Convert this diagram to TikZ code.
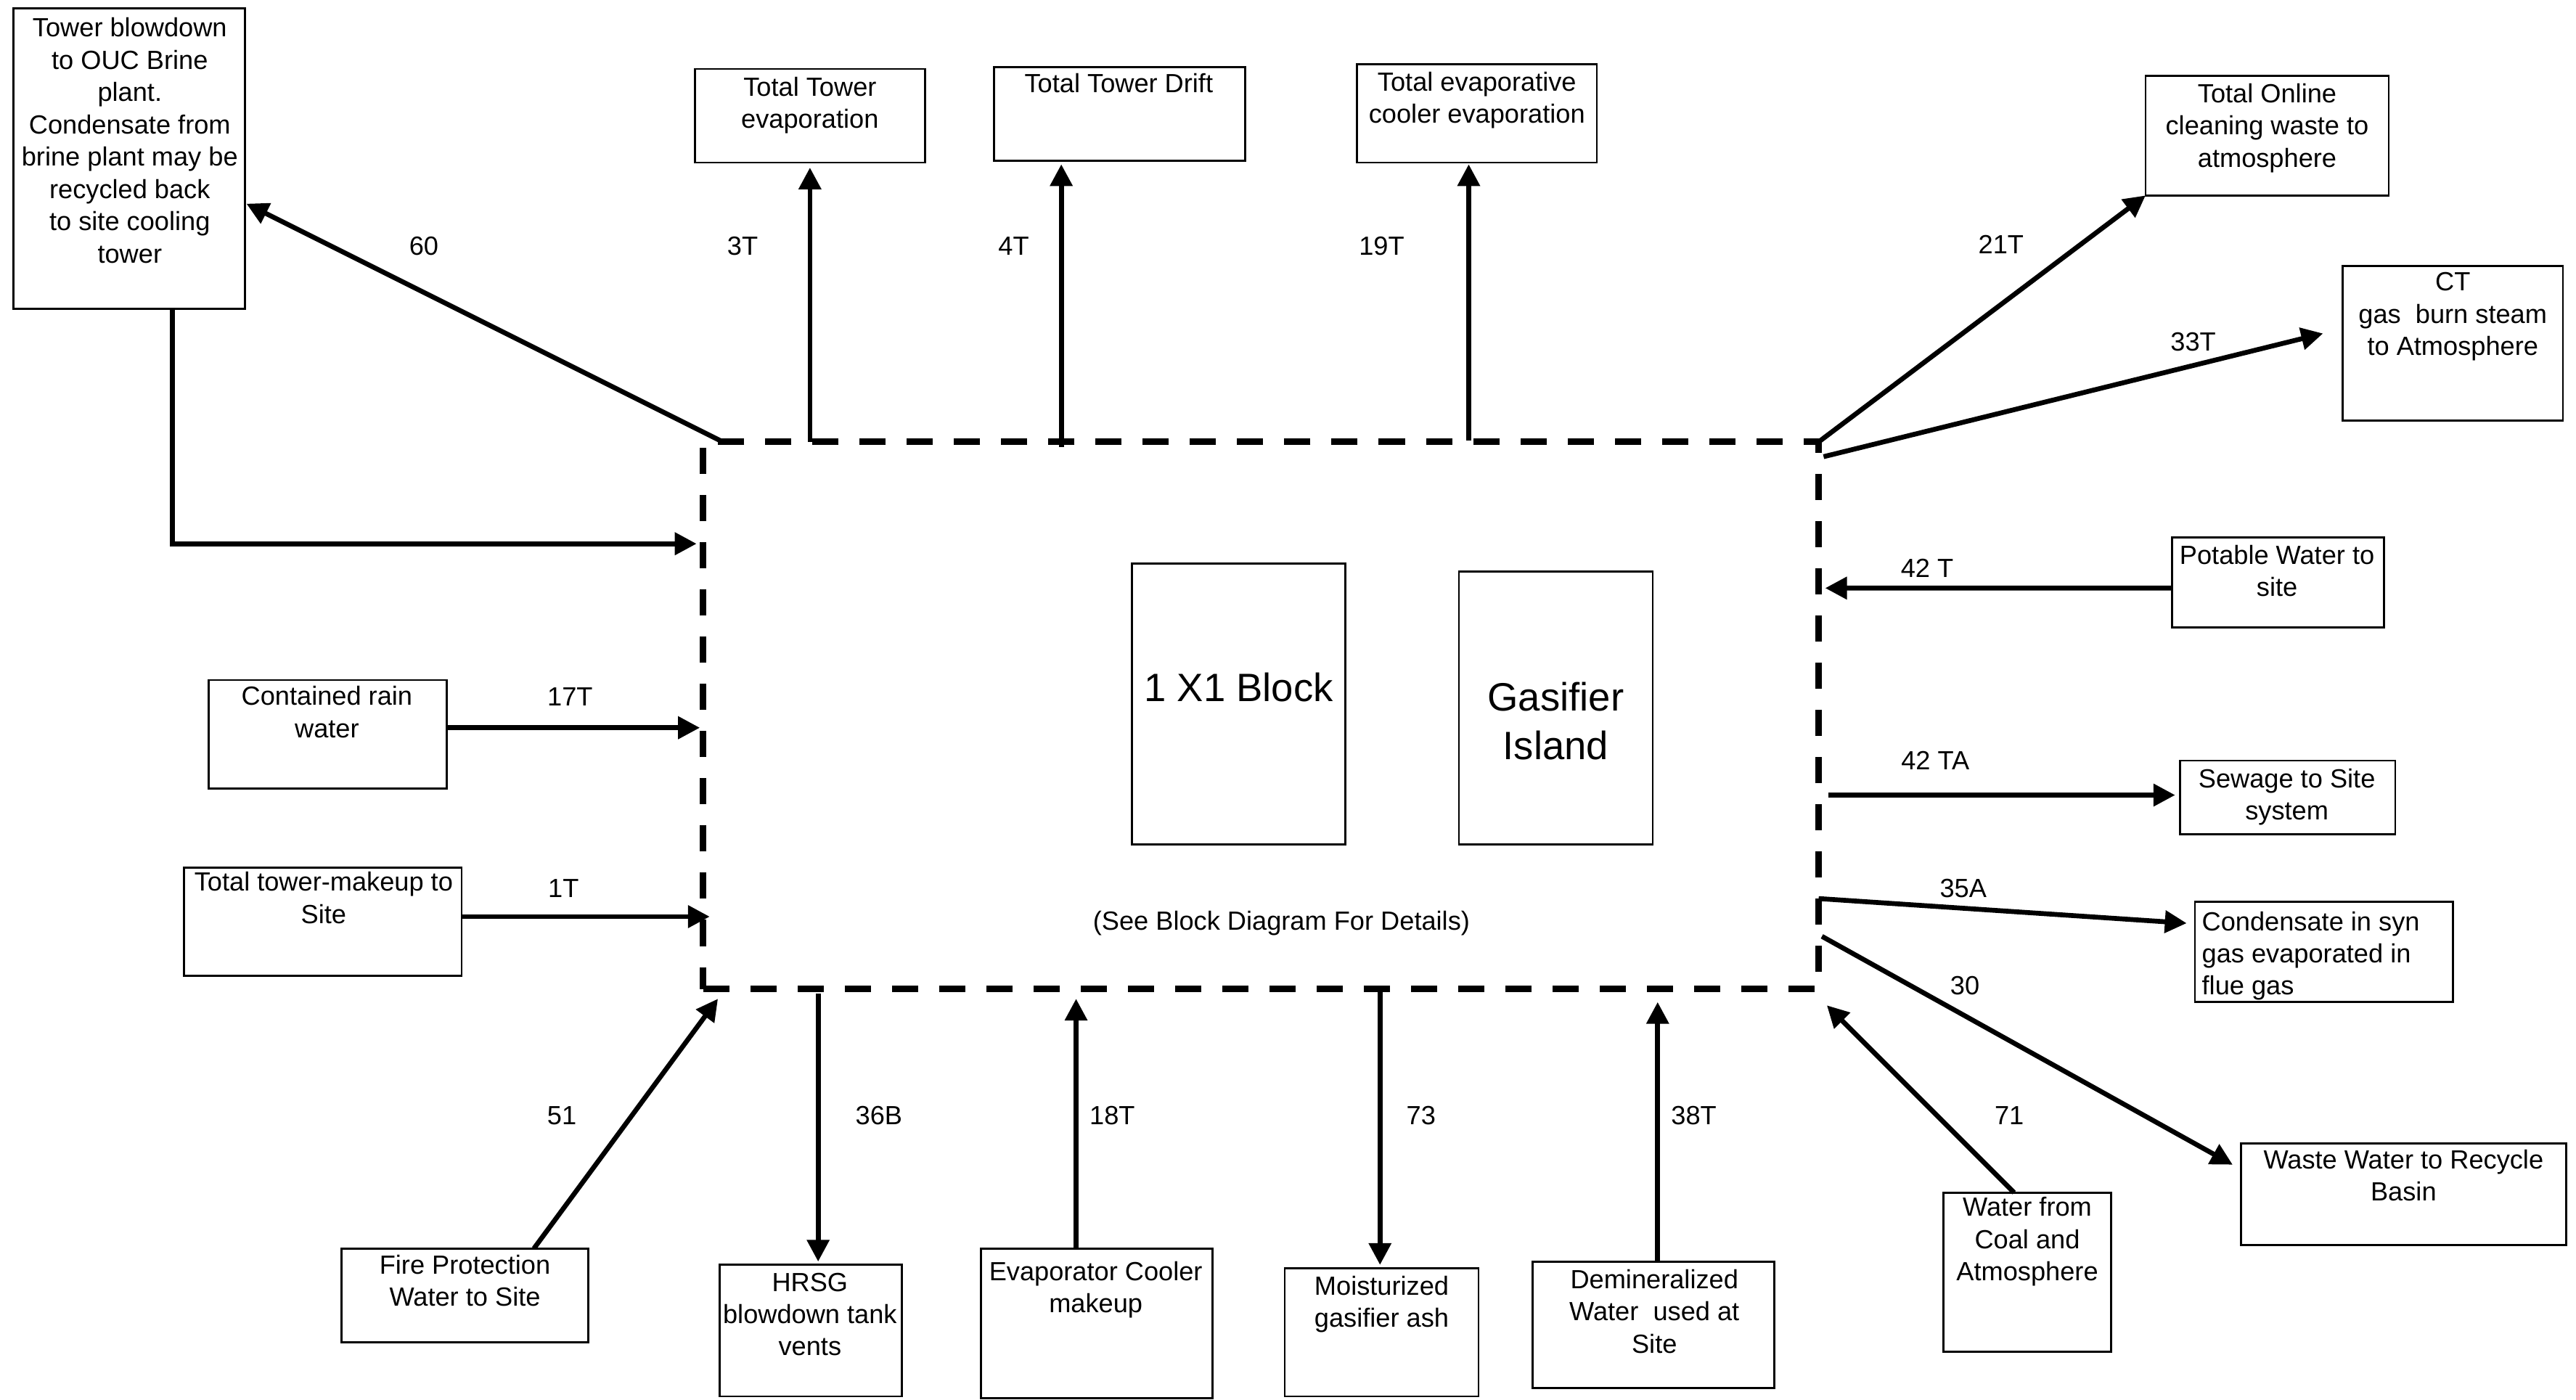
\documentclass[tikz,border=0pt]{standalone}
\usepackage{fontspec}
\setmainfont{Liberation Sans}
\usetikzlibrary{arrows.meta,calc,fit}
\newcommand\ftxt{\fontsize{10.3pt}{12.65pt}\selectfont}
\newcommand\fbig{\fontsize{15.5pt}{19.2pt}\selectfont}
\begin{document}
\begin{tikzpicture}[x=0.022634cm,y=-0.022634cm,
  box/.style={draw, line width=0.8pt, inner sep=0pt, outer sep=0pt},
  txt/.style={font=\ftxt, align=center, inner sep=0pt, anchor=north},
  lbl/.style={font=\ftxt, inner sep=0pt},
  arr/.style={line width=1.9pt, -{Triangle[length=0.3cm,width=0.3cm]}},
  siteln/.style={draw, line width=2.6pt, dash pattern=on 0.36cm off 0.29cm, inner sep=0pt, outer sep=0pt}]
\fill[white] (0,0) rectangle (1568,852);
\useasboundingbox (0,0) rectangle (1568,852);

% main dashed site boundary
\node[siteln, fit={(428,269)(1107,602)}] (site) {};

% boxes
\node[box, fit={(8,5)(149,188)}] (blow) {};
\node[box, fit={(423,42)(563,99)}] (tte) {};
\node[box, fit={(605,41)(758,98)}] (ttd) {};
\node[box, fit={(826,39)(972,99)}] (tec) {};
\node[box, fit={(1306,46)(1454,119)}] (tol) {};
\node[box, fit={(1426,162)(1560,256)}] (ct) {};
\node[box, fit={(1322,327)(1451,382)}] (pot) {};
\node[box, fit={(1327,463)(1458,508)}] (sew) {};
\node[box, fit={(1336,549)(1493,610)}] (cond) {};
\node[box, fit={(1364,696)(1562,758)}] (ww) {};
\node[box, fit={(1183,726)(1285,823)}] (wfc) {};
\node[box, fit={(933,768)(1080,845)}] (dem) {};
\node[box, fit={(782,772)(900,850)}] (moi) {};
\node[box, fit={(597,760)(738,851)}] (ecm) {};
\node[box, fit={(438,770)(549,850)}] (hrsg) {};
\node[box, fit={(208,760)(358,817)}] (fire) {};
\node[box, fit={(112,528)(281,594)}] (tmu) {};
\node[box, fit={(127,414)(272,480)}] (rain) {};
\node[box, fit={(689,343)(819,514)}] (blk) {};
\node[box, fit={(888,348)(1006,514)}] (gas) {};

% box texts
\node[txt] (blowt) at (79,10.5) {Tower blowdown\\to OUC Brine\\plant.\\Condensate from\\brine plant may be\\recycled back\\to site cooling\\tower};
\node[txt] (ttet) at (493,46.5) {Total Tower\\evaporation};
\node[txt] (ttdt) at (681,44.5) {Total Tower Drift};
\node[txt] (tect) at (899,43.5) {Total evaporative\\cooler evaporation};
\node[txt] (tolt) at (1380,50.5) {Total Online\\cleaning waste to\\atmosphere};
\node[txt] (ctt) at (1493,165.5) {CT\\gas\ \ burn steam\\to Atmosphere};
\node[txt] (pott) at (1386,331.5) {Potable Water to\\site};
\node[txt] (sewt) at (1392,467.5) {Sewage to Site\\system};
\node[txt, align=left, anchor=north west] (condt) at (1340,554.5) {Condensate in syn\\gas evaporated in\\flue gas};
\node[txt] (wwt) at (1463,699.5) {Waste Water to Recycle\\Basin};
\node[txt] (wfct) at (1234,728.5) {Water from\\Coal and\\Atmosphere};
\node[txt] (demt) at (1007,772.5) {Demineralized\\Water\ \ used at\\Site};
\node[txt] (moit) at (841,776.5) {Moisturized\\gasifier ash};
\node[txt] (ecmt) at (667,767.5) {Evaporator Cooler\\makeup};
\node[txt] (hrsgt) at (493,774.5) {HRSG\\blowdown tank\\vents};
\node[txt] (firet) at (283,763.5) {Fire Protection\\Water to Site};
\node[txt] (tmut) at (197,530.5) {Total tower-makeup to\\Site};
\node[txt] (raint) at (199,417.5) {Contained rain\\water};
\node[txt, font=\fbig, anchor=base] (blkt) at (754,427) {1 X1 Block};
\node[txt, font=\fbig] (gast) at (947,414.8) {Gasifier\\Island};
\node[txt, anchor=base] (seet) at (780,566) {(See Block Diagram For Details)};

% connectors
\draw[arr] ($(site.north west)+(12,0)$) -- ($(blow.north east)+(1,119)$);
\draw[arr] ($(blow.south west)+(97,0)$) |- ($(site.north west)+(-4,62)$);
\draw[arr] (tte.south |- site.north) -- ($(tte.south)+(0,3)$);
\draw[arr] ($(ttd.south west)+(41,174)$) -- ($(ttd.south west)+(41,2)$);
\draw[arr] ($(tec.south west)+(68,169)$) -- ($(tec.south west)+(68,1)$);
\draw[arr] (site.north east) -- (tol.south west);
\draw[arr] ($(site.north east)+(3,9)$) -- ($(ct.west)+(-12,-6)$);
\draw[arr] ($(pot.south west)+(0,-24)$) -- ($(site.east)+(4,-77.5)$);
\draw[arr] ($(site.east)+(6,48.5)$) -- ($(sew.west)+(-3,-1.5)$);
\draw[arr] ($(site.east)+(0,111.5)$) -- ($(cond.north west)+(-5,13)$);
\draw[arr] ($(site.east)+(2,134.5)$) -- ($(ww.north west)+(-5,13)$);
\draw[arr] ($(wfc.north west)+(43,0)$) -- ($(site.south east)+(5,10)$);
\draw[arr] ($(dem.north west)+(76,0)$) -- ($(site.south west)+(581,8)$);
\draw[arr] ($(site.south west)+(412,0)$) -- ($(moi.north west)+(58,-2)$);
\draw[arr] ($(ecm.north west)+(58,0)$) -- ($(site.south west)+(227,6)$);
\draw[arr] ($(site.south west)+(70,3)$) -- ($(hrsg.north west)+(60,-2)$);
\draw[arr] ($(fire.north west)+(117,0)$) -- ($(site.south west)+(9,6)$);
\draw[arr] ($(tmu.south east)+(0,-36)$) -- ($(site.west)+(4,122.5)$);
\draw[arr] ($(rain.north east)+(0,29)$) -- ($(site.west)+(-2,7.5)$);

% connector labels
\node[lbl] (l60) at (258,150) {60};
\node[lbl] (l3t) at (452,150) {3T};
\node[lbl] (l4t) at (617,150) {4T};
\node[lbl] (l19t) at (841,150) {19T};
\node[lbl] (l21t) at (1218,149) {21T};
\node[lbl] (l33t) at (1335,208) {33T};
\node[lbl] (l42t) at (1173,346) {42 T};
\node[lbl] (l42ta) at (1178,463) {42 TA};
\node[lbl] (l35a) at (1195,541) {35A};
\node[lbl] (l30) at (1196,600) {30};
\node[lbl] (l71) at (1223,679) {71};
\node[lbl] (l38t) at (1031,679) {38T};
\node[lbl] (l73) at (865,679) {73};
\node[lbl] (l18t) at (677,679) {18T};
\node[lbl] (l36b) at (535,679) {36B};
\node[lbl] (l51) at (342,679) {51};
\node[lbl] (l1t) at (343,541) {1T};
\node[lbl] (l17t) at (347,424) {17T};
\end{tikzpicture}
\end{document}
